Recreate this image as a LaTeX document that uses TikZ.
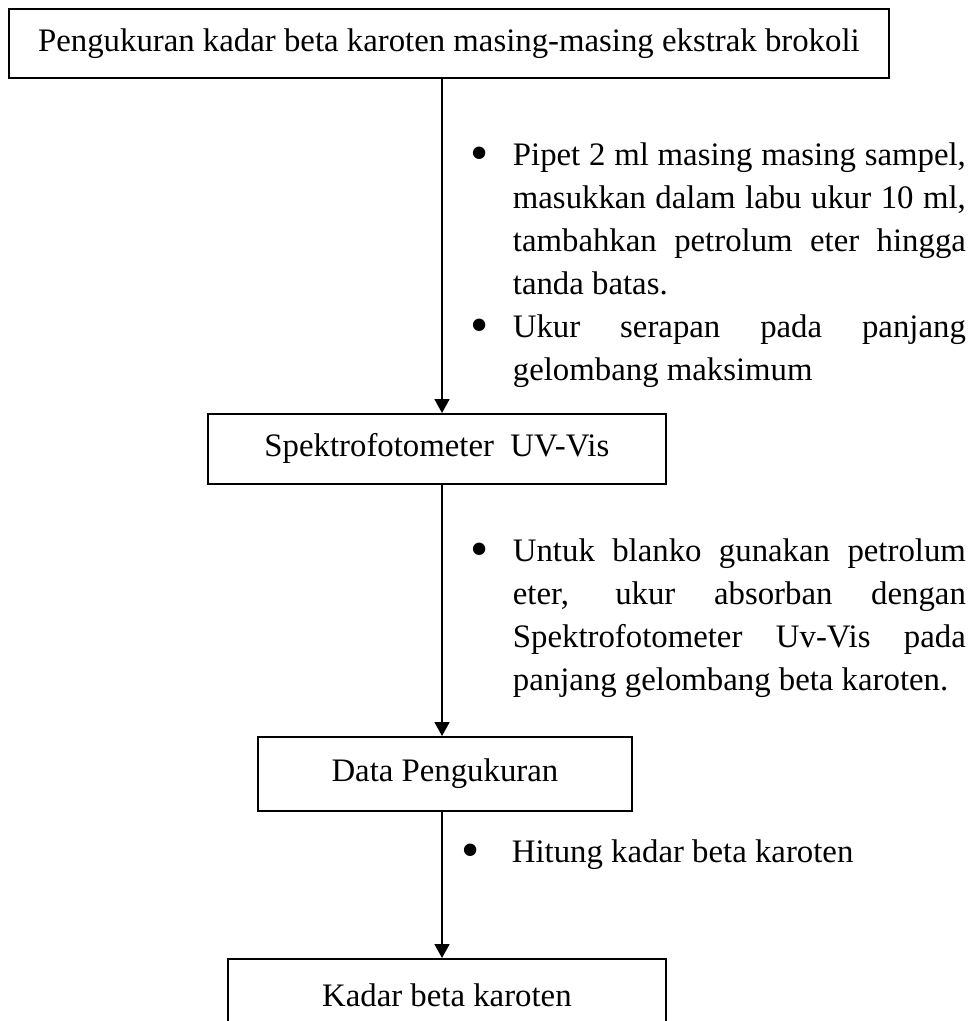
\documentclass[tikz,border=0pt]{standalone}
\usepackage{fontspec}
\setmainfont{Liberation Serif}
\usetikzlibrary{positioning,arrows.meta}

\hyphenpenalty=10000
\tolerance=10000
\newcommand{\titik}{\raisebox{-2.5pt}{\fontsize{26pt}{0pt}\selectfont\textbullet}}
\newcommand{\butir}[2][21pt]{\par\noindent\hangindent=#1\hangafter=1\makebox[#1][l]{\titik}\strut#2\par}

\begin{document}
\begin{tikzpicture}[x=0.5pt, y=-0.5pt, line width=0.9pt,
  font=\fontsize{16.4pt}{21.5pt}\selectfont,
  kotak/.style={rectangle, draw, anchor=north west},
  catatan/.style={anchor=north west, inner sep=0pt, text width=247.5pt, align=justify},
  panah/.style={-{Triangle[width=7.5pt,length=7pt]}}]
\useasboundingbox (0,0) rectangle (974,1021);
\clip (0,0) rectangle (974,1021);

\coordinate (sumbu) at (442,0);

\node (rectA) [kotak, minimum width=440pt, minimum height=34.5pt] at (8,8) {};
\node [] at (rectA.center) {Pengukuran kadar beta karoten masing-masing ekstrak brokoli};

\node (rectB) [kotak, minimum width=229pt, minimum height=35pt] at (207,413) {};
\node [] at (rectB.center) {Spektrofotometer\ \ UV-Vis};

\node (rectC) [kotak, minimum width=187pt, minimum height=37pt] at (257,736) {};
\node [] at (rectC.center) {Data Pengukuran};

\node (rectD) [kotak, minimum width=219pt, minimum height=36pt] at (227,958) {};
\node [] at (rectD.center) {Kadar beta karoten};

\node (textA) [catatan] at (470,122) {\butir{Pipet 2 ml masing masing sampel,\linebreak
  masukkan dalam labu ukur 10 ml,\linebreak
  tambahkan petrolum eter hingga\linebreak
  tanda batas.}
  \butir{Ukur serapan pada panjang\linebreak
  gelombang maksimum}};

\node (textB) [catatan] at (470,518) {\butir{Untuk blanko gunakan petrolum\linebreak
  eter, ukur absorban dengan\linebreak
  Spektrofotometer Uv-Vis pada\linebreak
  panjang gelombang beta karoten.}};

\node (textC) [catatan] at (461,819) {\butir[25pt]{Hitung kadar beta karoten}};

\draw [panah] (rectA.south -| sumbu) -- (rectB.north -| sumbu);
\draw [panah] (rectB.south -| sumbu) -- (rectC.north -| sumbu);
\draw [panah] (rectC.south -| sumbu) -- (rectD.north -| sumbu);
\end{tikzpicture}
\end{document}
